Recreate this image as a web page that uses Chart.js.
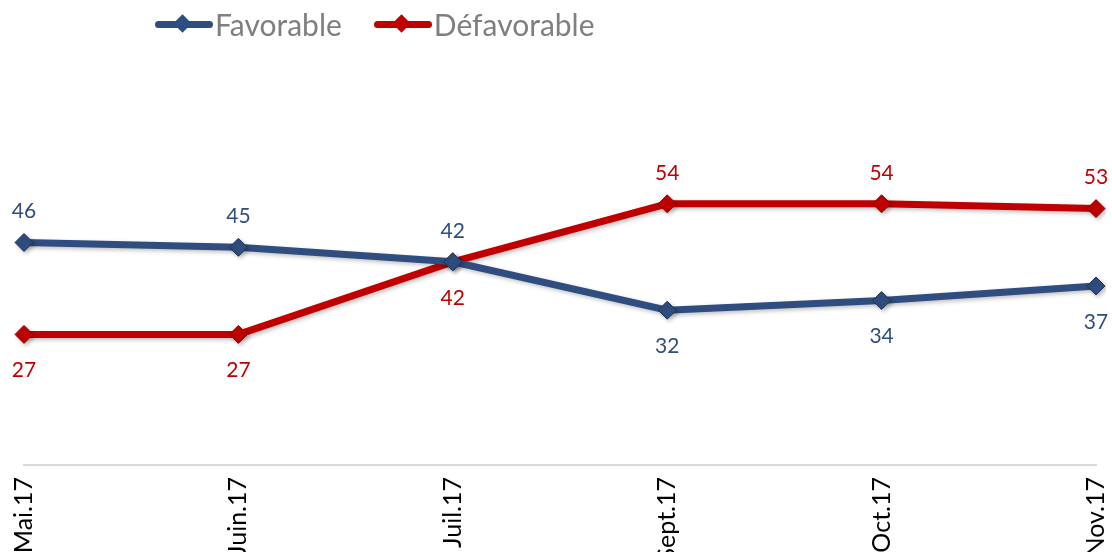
<!DOCTYPE html>
<html>
<head>
<meta charset="utf-8">
<script src="https://cdn.jsdelivr.net/npm/chart.js@4"></script>
<style>
  html, body { margin: 0; padding: 0; background: #fff; overflow: hidden; }
  #wrap { position: relative; width: 1112px; height: 552px; }
  #legend { position: absolute; top: 6px; left: 155px; display: flex; align-items: center;
            font-family: Lato, "Open Sans", sans-serif; font-size: 30px; color: #7f7f7f; }
  .item { display: flex; align-items: center; margin-right: 32px; }
  .sample { position: relative; width: 58px; height: 7px; border-radius: 4px; margin-right: 2px; }
  .sample span { position: absolute; left: 21px; top: -4px; width: 13px; height: 13px; transform: rotate(45deg); }
</style>
</head>
<body>
<div id="wrap">
  <canvas id="chart" width="1112" height="552"></canvas>
  <div id="legend"></div>
</div>
<script>
// ==========================
// Data
// ==========================
const months = ["Mai.17", "Juin.17", "Juil.17", "Sept.17", "Oct.17", "Nov.17"];
const favorable = [46, 45, 42, 32, 34, 37];
const defavorable = [27, 27, 42, 54, 54, 53];

// where each value label goes: -1 above the point, 1 below
const favorablePos = [-1, -1, -1, 1, 1, 1];
const defavorablePos = [1, 1, 1, -1, -1, -1];

const blue = "#2f4d7e";
const red = "#c00000";

// ==========================
// Legend (html)
// ==========================
const legend = document.getElementById('legend');
[["Favorable", blue], ["Défavorable", red]].forEach(([name, color]) => {
    const item = document.createElement('div');
    item.className = 'item';
    item.innerHTML = `<div class="sample" style="background:${color}"><span style="background:${color}"></span></div>${name}`;
    legend.appendChild(item);
});

// ==========================
// Plugins
// ==========================
const lineShadow = {
    id: 'lineShadow',
    beforeDatasetDraw(chart) {
        const ctx = chart.ctx;
        ctx.save();
        ctx.shadowColor = 'rgba(0,0,0,0.25)';
        ctx.shadowBlur = 4;
        ctx.shadowOffsetX = 2;
        ctx.shadowOffsetY = 2;
    },
    afterDatasetDraw(chart) {
        chart.ctx.restore();
    }
};

const valueLabels = {
    id: 'valueLabels',
    afterDatasetsDraw(chart) {
        const ctx = chart.ctx;
        ctx.save();
        ctx.font = '21px Lato, "Open Sans", sans-serif';
        ctx.textAlign = 'center';
        ctx.textBaseline = 'middle';
        chart.data.datasets.forEach((ds, i) => {
            const meta = chart.getDatasetMeta(i);
            meta.data.forEach((pt, j) => {
                const dy = ds.labelPos[j] < 0 ? -31 : 36;
                ctx.fillStyle = ds.borderColor;
                ctx.fillText(ds.data[j], pt.x, pt.y + dy);
            });
        });
        ctx.restore();
    }
};

// ==========================
// Chart
// ==========================
new Chart(document.getElementById('chart'), {
    type: 'line',
    data: {
        labels: months,
        datasets: [
            {
                label: 'Favorable',
                data: favorable,
                labelPos: favorablePos,
                borderColor: blue,
                backgroundColor: blue,
                borderWidth: 7,
                pointStyle: 'rectRot',
                pointRadius: 9,
                pointBorderWidth: 1,
                pointBorderColor: '#1f3558',
                tension: 0
            },
            {
                label: 'Défavorable',
                data: defavorable,
                labelPos: defavorablePos,
                borderColor: red,
                backgroundColor: red,
                borderWidth: 7,
                pointStyle: 'rectRot',
                pointRadius: 9,
                pointBorderWidth: 1,
                pointBorderColor: '#900000',
                tension: 0
            }
        ]
    },
    options: {
        responsive: false,
        animation: false,
        layout: { padding: { top: 78, left: 24, right: 16, bottom: 0 } },
        plugins: {
            legend: { display: false },
            tooltip: { enabled: false }
        },
        scales: {
            y: { display: false, min: 0, max: 80 },
            x: {
                offset: false,
                grid: { display: false, drawTicks: false },
                border: { color: '#d9d9d9', width: 2 },
                ticks: {
                    minRotation: 90,
                    maxRotation: 90,
                    padding: 12,
                    color: '#000',
                    font: { family: 'Lato, "Open Sans", sans-serif', size: 25 }
                },
                afterFit(scale) {
                    scale.height = 87;
                    scale.paddingLeft = 0;
                    scale.paddingRight = 0;
                }
            }
        }
    },
    plugins: [lineShadow, valueLabels]
});
</script>
</body>
</html>
